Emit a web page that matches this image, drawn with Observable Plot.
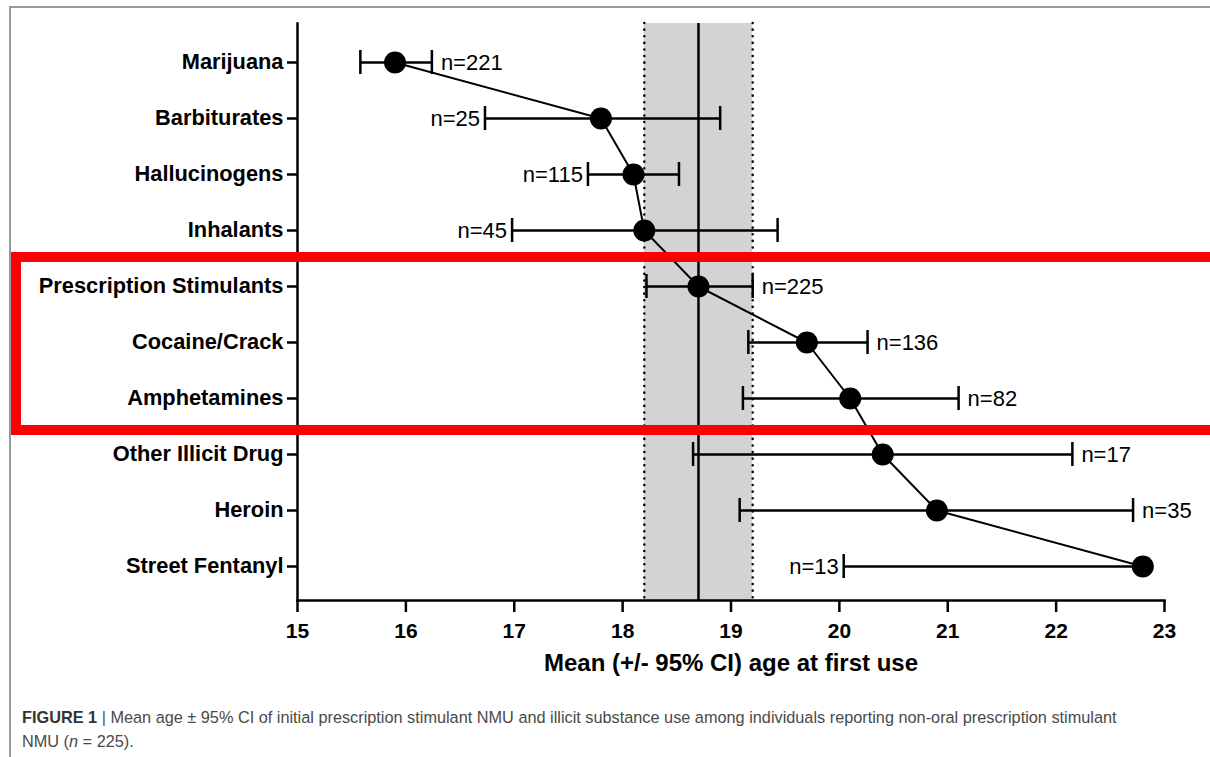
<!DOCTYPE html>
<html>
<head>
<meta charset="utf-8">
<script src="https://cdn.jsdelivr.net/npm/d3@7"></script>
<script src="https://cdn.jsdelivr.net/npm/@observablehq/plot@0.6"></script>
<style>
  html, body { margin: 0; padding: 0; background: #fff; overflow: hidden; }
  #wrap { position: relative; width: 1210px; height: 757px; overflow: hidden; }
  #border { position: absolute; left: 9px; top: 6px; width: 1300px; height: 900px;
    border-left: 2px solid #9a9a9a; border-top: 2px solid #9a9a9a; }
  #chart { position: absolute; left: 0; top: 0; }
  #redbox { position: absolute; left: 11px; top: 252px; width: 1260px; height: 183px;
    border: 10px solid #ff0000; box-sizing: border-box; }
  #caption { position: absolute; left: 22px; top: 705px; width: 1180px;
    font-family: "Liberation Sans", Arial, sans-serif;
    font-size: 16.3px; line-height: 24px; color: #4a4a4a; }
  #caption b { color: #333; }
  #caption .bar { color: #555; }
</style>
</head>
<body>
<div id="wrap">
  <div id="border"></div>
  <div id="chart"></div>
  <div id="redbox"></div>
  <div id="caption"><b>FIGURE 1</b> <span class="bar">|</span> Mean age ± 95% CI of initial prescription stimulant NMU and illicit substance use among individuals reporting non-oral prescription stimulant<br>NMU (<i>n</i> = 225).</div>
</div>
<script>
const cats = ["Marijuana","Barbiturates","Hallucinogens","Inhalants","Prescription Stimulants","Cocaine/Crack","Amphetamines","Other Illicit Drug","Heroin","Street Fentanyl"];
const means = [15.9, 17.8, 18.1, 18.2, 18.7, 19.7, 20.1, 20.4, 20.9, 22.8];
const lower = [15.58, 16.73, 17.68, 16.98, 18.22, 19.16, 19.11, 18.65, 19.08, 20.04];
const upper = [16.24, 18.90, 18.52, 19.43, 19.20, 20.26, 21.10, 22.15, 22.71, null];
const nLabels = ["n=221","n=25","n=115","n=45","n=225","n=136","n=82","n=17","n=35","n=13"];
const labelSide = ["right","left","left","left","right","right","right","right","right","left"];
const refMean = 18.7, refLo = 18.2, refHi = 19.2;
const xTicks = [15, 16, 17, 18, 19, 20, 21, 22, 23];
const xTitle = "Mean (+/- 95% CI) age at first use";

const data = cats.map((c, i) => ({cat: c, mean: means[i], lo: lower[i], hi: upper[i], n: nLabels[i], side: labelSide[i]}));
const caps = [];
data.forEach(d => { caps.push({cat: d.cat, x: d.lo}); if (d.hi != null) caps.push({cat: d.cat, x: d.hi}); });
const rightLabels = data.filter(d => d.side === "right");
const leftLabels = data.filter(d => d.side === "left");

const font = "'Liberation Sans', Arial, sans-serif";

const plot = Plot.plot({
  width: 1210,
  height: 690,
  marginLeft: 297,
  marginRight: 46,
  marginTop: 23,
  marginBottom: 90,
  style: {fontFamily: font, color: "#000", background: "transparent", overflow: "visible"},
  x: {domain: [15, 23]},
  y: {type: "band", domain: cats, range: [34, 594], padding: 0},
  marks: [
    Plot.rect([{x1: refLo, x2: refHi}], {x1: "x1", x2: "x2", fill: "#d3d3d3"}),
    Plot.ruleX([refLo, refHi], {stroke: "#000", strokeWidth: 2.5, strokeDasharray: "0.1,6.5", strokeLinecap: "round"}),
    Plot.ruleX([refMean], {stroke: "#000", strokeWidth: 2.5}),
    Plot.frame({anchor: "left", stroke: "#000", strokeWidth: 2.5}),
    Plot.frame({anchor: "bottom", stroke: "#000", strokeWidth: 2.5}),
    Plot.axisX({ticks: xTicks, tickSize: 12, tickPadding: 11, strokeWidth: 2.5, fontSize: 21, fontWeight: "bold", label: null}),
    Plot.axisY({tickSize: 10, tickPadding: 4, strokeWidth: 2.5, fontSize: 21.8, fontWeight: "bold", label: null}),
    Plot.text([xTitle], {frameAnchor: "bottom", dy: 70, fontSize: 24, fontWeight: "bold", fill: "#000"}),
    Plot.ruleY(data, {y: "cat", x1: "lo", x2: d => d.hi ?? d.mean, stroke: "#000", strokeWidth: 2.5}),
    Plot.tickX(caps, {x: "x", y: "cat", stroke: "#000", strokeWidth: 2.5, insetTop: 16, insetBottom: 16}),
    Plot.line(data, {x: "mean", y: "cat", stroke: "#000", strokeWidth: 2}),
    Plot.dot(data, {x: "mean", y: "cat", r: 11, fill: "#000"}),
    Plot.text(rightLabels, {x: "hi", y: "cat", text: "n", textAnchor: "start", dx: 9, fontSize: 22, fill: "#000"}),
    Plot.text(leftLabels, {x: "lo", y: "cat", text: "n", textAnchor: "end", dx: -5, fontSize: 22, fill: "#000"})
  ]
});
document.getElementById("chart").appendChild(plot);
</script>
</body>
</html>
